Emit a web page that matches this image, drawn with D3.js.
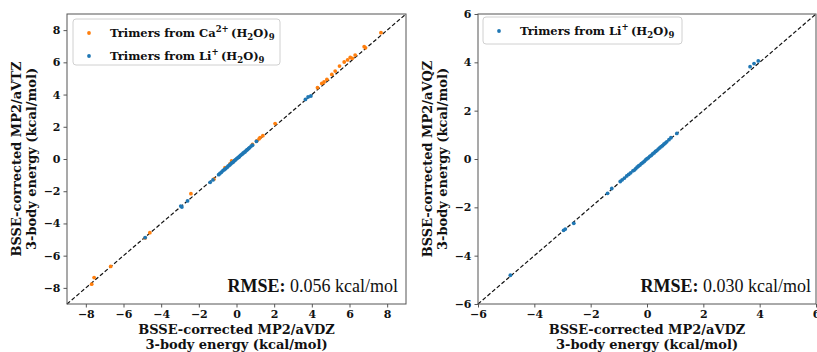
<!DOCTYPE html>
<html><head><meta charset="utf-8">
<script src="https://cdn.jsdelivr.net/npm/d3@7"></script>
<style>body{margin:0;background:#fff}svg{display:block}</style>
</head><body>
<svg id="c" width="817" height="352"></svg>
<script>
// ---- data ----
const leftTicks = [-8,-6,-4,-2,0,2,4,6,8];
const rightTicks = [-6,-4,-2,0,2,4,6];
// Ca2+(H2O)9 trimers: [aVDZ, aVTZ]
const caAVDZ = [7.67,6.85,6.78,6.30,6.15,6.04,5.90,5.72,5.47,5.24,5.06,4.80,4.65,4.53,4.30,2.05,1.40,1.25,1.20,1.07,0.85,-0.26,-0.35,-0.61,-1.20,-2.42,-4.60,-4.85,-6.68,-7.56,-7.69];
const caAVTZ = [7.84,6.90,6.97,6.45,6.25,6.30,6.15,6.02,5.77,5.46,5.25,4.94,4.78,4.69,4.43,2.20,1.45,1.33,1.25,1.12,0.90,-0.12,-0.30,-0.53,-1.25,-2.15,-4.57,-4.90,-6.67,-7.36,-7.77];
// Li+(H2O)9 trimers: aVDZ, aVTZ, aVQZ
const liAVDZ = [-4.85,-2.96,-2.90,-2.60,-1.40,-1.25,-0.95,-0.88,-0.80,-0.72,-0.65,-0.58,-0.50,-0.45,-0.40,-0.35,-0.30,-0.25,-0.20,-0.15,-0.10,-0.05,0.00,0.05,0.10,0.15,0.20,0.25,0.30,0.35,0.40,0.45,0.50,0.55,0.60,0.65,0.70,0.78,0.85,1.06,3.66,3.80,3.95];
const liAVTZ = [-4.88,-2.92,-2.98,-2.60,-1.45,-1.30,-0.97,-0.90,-0.82,-0.72,-0.66,-0.60,-0.52,-0.44,-0.41,-0.36,-0.30,-0.24,-0.21,-0.16,-0.09,-0.05,0.01,0.06,0.10,0.14,0.21,0.26,0.30,0.36,0.41,0.44,0.51,0.56,0.60,0.66,0.71,0.80,0.86,1.10,3.70,3.85,3.91];
const liAVQZ = [-4.81,-2.95,-2.90,-2.66,-1.42,-1.22,-0.93,-0.86,-0.79,-0.70,-0.64,-0.57,-0.49,-0.46,-0.40,-0.34,-0.29,-0.25,-0.19,-0.15,-0.10,-0.04,0.01,0.05,0.11,0.15,0.21,0.25,0.31,0.35,0.41,0.46,0.51,0.55,0.61,0.66,0.71,0.80,0.88,1.06,3.82,3.95,4.06];
const xTitle = ["BSSE-corrected MP2/aVDZ","3-body energy (kcal/mol)"];
const rmseLeft = "0.056 kcal/mol", rmseRight = "0.030 kcal/mol";

const ORANGE = "#ff7f0e", BLUE = "#1f77b4";
const svg = d3.select("#c");
const tickFont = "'DejaVu Serif', serif";

function panel(o){
  const x = d3.scaleLinear().domain(o.domain).range([o.x0, o.x1]);
  const y = d3.scaleLinear().domain(o.domain).range([o.y1, o.y0]);
  const g = svg.append("g");
  // diagonal
  g.append("line").attr("x1",x(o.domain[0])).attr("y1",y(o.domain[0]))
    .attr("x2",x(o.domain[1])).attr("y2",y(o.domain[1]))
    .attr("stroke","#111").attr("stroke-width",1.2).attr("stroke-dasharray","4,2.2");
  // series
  o.series.forEach(s=>{
    g.append("g").selectAll("circle").data(s.xs.map((v,i)=>[v,s.ys[i]])).join("circle")
      .attr("cx",d=>x(d[0])).attr("cy",d=>y(d[1])).attr("r",1.9).attr("fill",s.color);
  });
  // axes
  const ax = d3.axisBottom(x).tickValues(o.ticks).tickSize(3.5).tickPadding(3)
    .tickFormat(d=>d<0?"\u2212"+Math.abs(d):String(d));
  const ay = d3.axisLeft(y).tickValues(o.ticks).tickSize(3.5).tickPadding(3)
    .tickFormat(d=>d<0?"\u2212"+Math.abs(d):String(d));
  const gx = g.append("g").attr("transform",`translate(0,${o.y1})`).call(ax);
  const gy = g.append("g").attr("transform",`translate(${o.x0},0)`).call(ay);
  [gx,gy].forEach(a=>{
    a.select(".domain").remove();
    a.selectAll("line").attr("stroke","#444").attr("stroke-width",0.9);
    a.selectAll("text").attr("font-family",tickFont).attr("font-weight","bold")
      .attr("font-size",11).attr("fill","#111");
  });
  // frame
  g.append("rect").attr("x",o.x0).attr("y",o.y0).attr("width",o.x1-o.x0).attr("height",o.y1-o.y0)
    .attr("fill","none").attr("stroke","#555").attr("stroke-width",1);
  // x title
  const cx = (o.x0+o.x1)/2;
  xTitle.forEach((t,i)=>{
    g.append("text").attr("x",cx).attr("y",334+i*15).attr("text-anchor","middle")
      .attr("font-family",tickFont).attr("font-weight","bold").attr("font-size",13).attr("fill","#111").text(t);
  });
  // y title
  const cy = (o.y0+o.y1)/2;
  o.yTitle.forEach((t,i)=>{
    g.append("text").attr("transform",`translate(${o.yLabX+i*15},${cy}) rotate(-90)`)
      .attr("text-anchor","middle").attr("font-family",tickFont).attr("font-weight","bold")
      .attr("font-size",13).attr("fill","#111").text(t);
  });
  // RMSE
  const rt = g.append("text").attr("x",o.rmseX).attr("y",292).attr("text-anchor","end")
    .attr("font-family","'Liberation Serif', 'Times New Roman', serif").attr("font-size",18).attr("fill","#111");
  rt.append("tspan").attr("font-weight","bold").text("RMSE:");
  rt.append("tspan").text(" "+o.rmse);
  // legend
  const L = o.legend;
  g.append("rect").attr("x",L.x).attr("y",L.y).attr("width",L.w).attr("height",L.h).attr("rx",3)
    .attr("fill","#fff").attr("fill-opacity",0.85).attr("stroke","#d0d0d0").attr("stroke-width",1);
  L.items.forEach((it,i)=>{
    const yy = L.y + 14 + i*23;
    g.append("circle").attr("cx",L.x+16).attr("cy",yy).attr("r",1.9).attr("fill",it.color);
    const t = g.append("text").attr("x",L.x+37).attr("y",yy+4).attr("font-family",tickFont)
      .attr("font-weight","bold").attr("font-size",11.5).attr("fill","#111");
    t.append("tspan").text("Trimers from "+it.ion);
    t.append("tspan").attr("font-size",8.5).attr("dy",-5).text(it.sup);
    t.append("tspan").attr("dy",5).text("\u2009(H");
    t.append("tspan").attr("font-size",8.5).attr("dy",3).text("2");
    t.append("tspan").attr("dy",-3).text("O)");
    t.append("tspan").attr("font-size",8.5).attr("dy",3).text("9");
  });
}

panel({domain:[-9,9], ticks:leftTicks, x0:67, x1:406, y0:14, y1:304,
  series:[{xs:caAVDZ, ys:caAVTZ, color:ORANGE},{xs:liAVDZ, ys:liAVTZ, color:BLUE}],
  yTitle:["BSSE-corrected MP2/aVTZ","3-body energy (kcal/mol)"], yLabX:21,
  rmse:rmseLeft, rmseX:398,
  legend:{x:73,y:19,w:207,h:46,items:[{ion:"Ca",sup:"2+",color:ORANGE},{ion:"Li",sup:"+",color:BLUE}]}});

panel({domain:[-6,6], ticks:rightTicks, x0:478, x1:816, y0:14, y1:304,
  series:[{xs:liAVDZ, ys:liAVQZ, color:BLUE}],
  yTitle:["BSSE-corrected MP2/aVQZ","3-body energy (kcal/mol)"], yLabX:432,
  rmse:rmseRight, rmseX:811,
  legend:{x:483,y:17,w:199,h:27,items:[{ion:"Li",sup:"+",color:BLUE}]}});
</script>
</body></html>
